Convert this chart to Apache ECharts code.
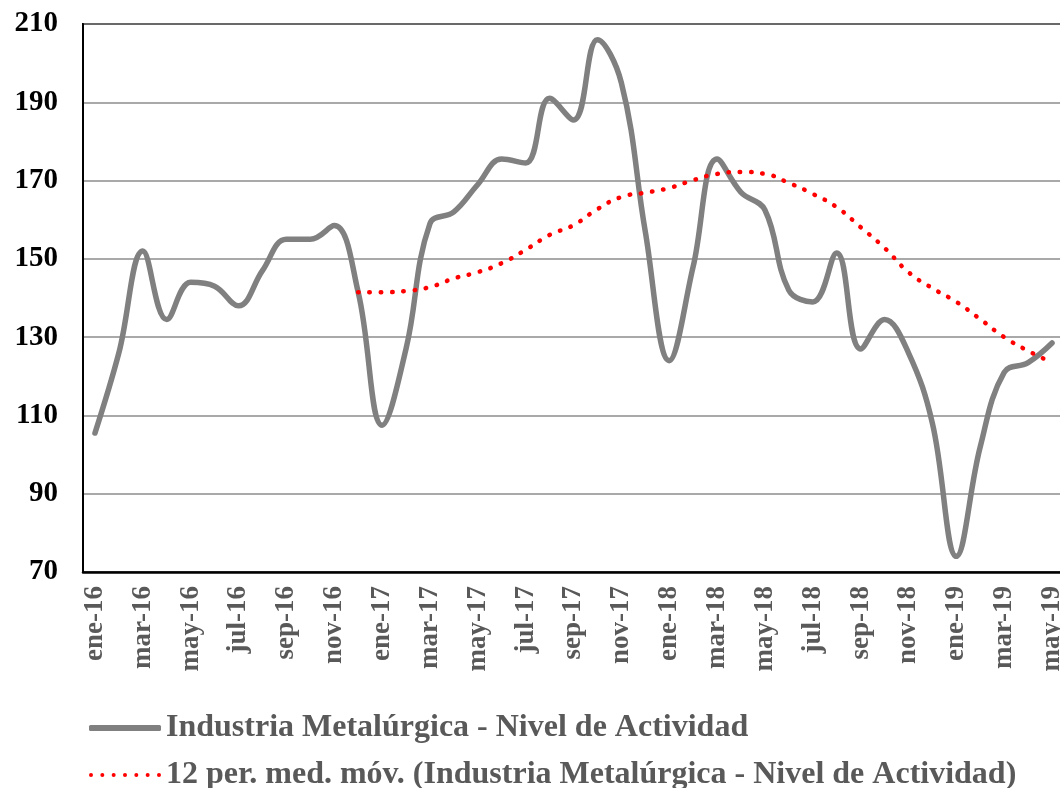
<!DOCTYPE html>
<html>
<head>
<meta charset="utf-8">
<script src="https://cdn.jsdelivr.net/npm/echarts@6/dist/echarts.min.js"></script>
<style>
  html, body { margin: 0; padding: 0; background: #fff; }
  #chart { width: 1060px; height: 788px; }
</style>
</head>
<body>
<div id="chart"></div>
<script>
// meses ene-16 .. may-19
const categories = [
  'ene-16','feb-16','mar-16','abr-16','may-16','jun-16','jul-16','ago-16','sep-16','oct-16','nov-16','dic-16',
  'ene-17','feb-17','mar-17','abr-17','may-17','jun-17','jul-17','ago-17','sep-17','oct-17','nov-17','dic-17',
  'ene-18','feb-18','mar-18','abr-18','may-18','jun-18','jul-18','ago-18','sep-18','oct-18','nov-18','dic-18',
  'ene-19','feb-19','mar-19','abr-19','may-19'
];

// Industria Metalúrgica - Nivel de Actividad
const nivelActividad = [
  105.5, 126, 152, 134.5, 144, 143, 138, 147, 155, 155, 158.5, 141.5,
  107.5, 127, 159, 162, 169, 175.5, 174.5, 191, 185.5, 206, 195, 157,
  124, 148, 175.5, 167, 162.5, 142, 139, 151.5, 127, 134.5, 126, 108,
  74, 102, 121, 123.5, 128.5
];

// 12 per. med. móv.
const mediaMovil = [
  null, null, null, null, null, null, null, null, null, null, null, 141.5,
  141.5, 141.8, 142.8, 145, 146.6, 148.9, 152.3, 156.1, 158.6, 162.7, 165.8, 166.9,
  168.1, 170.1, 171.7, 172.2, 171.7, 169.4, 166.6, 163.2, 158.1, 152.8, 146.6, 142.5,
  139, 134.6, 130, 126.5, 123.5
];

const serieNames = [
  'Industria Metalúrgica - Nivel de Actividad',
  '12 per. med. móv. (Industria Metalúrgica - Nivel de Actividad)'
];

// icono de puntos para la leyenda de la media móvil
let dotsPath = 'path://';
for (let k = 0; k < 7; k++) {
  const cx = 2 + k * 11.33;
  dotsPath += 'M' + (cx - 2) + ',2a2,2 0 1,0 4,0a2,2 0 1,0 -4,0Z';
}

const legendText = {
  fontFamily: 'Liberation Serif', fontWeight: 'bold', fontSize: 32, color: '#595959'
};

const chart = echarts.init(document.getElementById('chart'), null, { renderer: 'canvas' });

chart.setOption({
  animation: false,
  backgroundColor: '#ffffff',
  grid: {
    left: 83, right: -4, top: 24, bottom: 216,
    outerBoundsMode: 'none',
    containLabel: false,
    show: true, borderColor: '#000', borderWidth: 2, backgroundColor: 'transparent'
  },
  legend: [
    {
      left: 84, top: 707,
      icon: 'roundRect',
      itemWidth: 72, itemHeight: 6,
      textStyle: legendText,
      data: [serieNames[0]]
    },
    {
      left: 84, top: 754,
      icon: dotsPath,
      itemWidth: 72, itemHeight: 4.5,
      textStyle: legendText,
      data: [serieNames[1]]
    }
  ],
  xAxis: {
    type: 'category',
    data: categories,
    boundaryGap: true,
    axisLine: { lineStyle: { color: '#000', width: 2.5 } },
    axisTick: { show: false },
    axisLabel: {
      interval: 1, rotate: 90, margin: 14,
      fontFamily: 'Liberation Serif', fontWeight: 'bold', fontSize: 27, color: '#595959'
    }
  },
  yAxis: {
    type: 'value',
    min: 70, max: 210, interval: 20,
    axisLine: { show: true, lineStyle: { color: '#000', width: 2 } },
    axisTick: { show: false },
    splitLine: { lineStyle: { color: '#8c8c8c', width: 1.5 } },
    axisLabel: {
      margin: 25,
      fontFamily: 'Liberation Serif', fontWeight: 'bold', fontSize: 29, color: '#000'
    }
  },
  series: [
    {
      name: serieNames[0],
      type: 'line',
      data: nivelActividad,
      smooth: 0.4,
      symbol: 'none',
      lineStyle: { color: '#808080', width: 5.5, cap: 'round', join: 'round' },
      itemStyle: { color: '#808080' },
      z: 2
    },
    {
      name: serieNames[1],
      type: 'line',
      data: mediaMovil,
      smooth: true,
      symbol: 'none',
      lineStyle: { color: '#ff0000', width: 4.5, type: [0.5, 10.8], cap: 'round' },
      itemStyle: { color: '#ff0000' },
      z: 3
    }
  ]
});
</script>
</body>
</html>
